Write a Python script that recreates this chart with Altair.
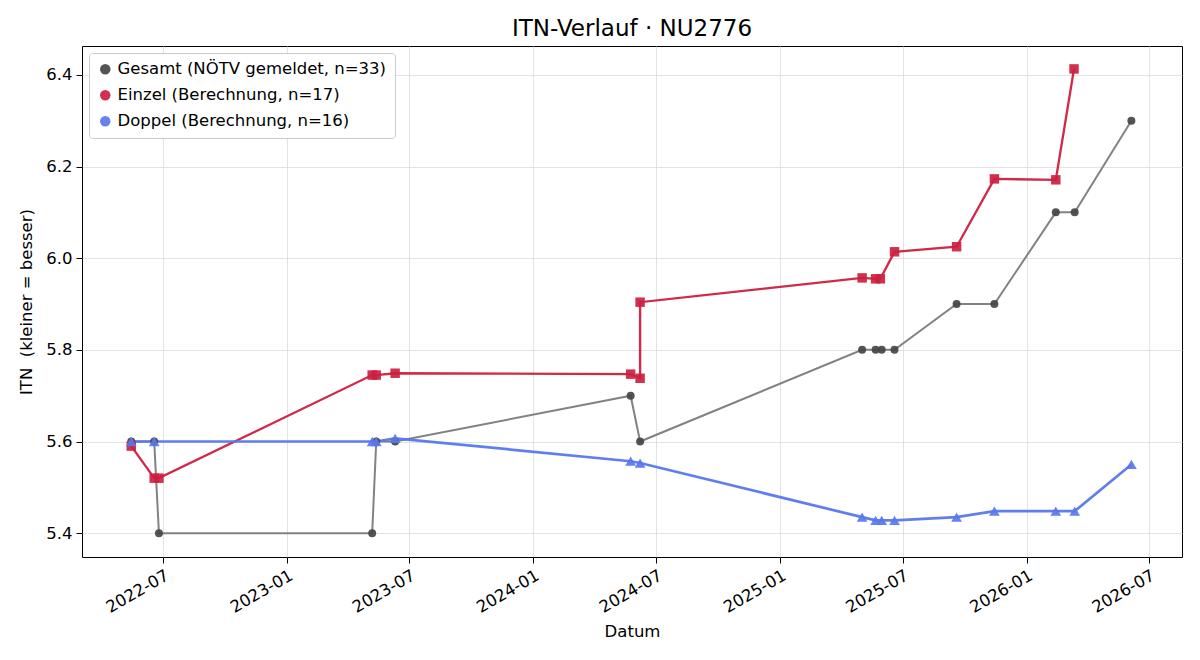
import altair as alt
import pandas as pd

# ---- data ----
gesamt_dates = ["2022-05-15", "2022-06-18", "2022-06-25", "2023-05-07", "2023-05-13",
                "2023-06-10", "2024-05-24", "2024-06-07", "2025-05-02", "2025-05-22",
                "2025-05-31", "2025-06-19", "2025-09-19", "2025-11-14", "2026-02-13",
                "2026-03-13", "2026-06-05"]
gesamt_vals = [5.6, 5.6, 5.4, 5.4, 5.6, 5.6, 5.7, 5.6, 5.8, 5.8, 5.8, 5.8, 5.9, 5.9,
               6.1, 6.1, 6.3]

einzel_dates = ["2022-05-15", "2022-06-18", "2022-06-25", "2023-05-07", "2023-05-13",
                "2023-06-10", "2024-05-24", "2024-06-07", "2024-06-07", "2025-05-02",
                "2025-05-22", "2025-05-29", "2025-06-19", "2025-09-19", "2025-11-14",
                "2026-02-13", "2026-03-12"]
einzel_vals = [5.59, 5.52, 5.52, 5.745, 5.745, 5.749, 5.747, 5.738, 5.904, 5.957,
               5.955, 5.955, 6.014, 6.025, 6.173, 6.171, 6.413]

doppel_dates = ["2022-05-15", "2022-06-18", "2023-05-07", "2023-05-13", "2023-06-10",
                "2024-05-24", "2024-06-07", "2025-05-02", "2025-05-22", "2025-05-31",
                "2025-06-19", "2025-09-19", "2025-11-14", "2026-02-13", "2026-03-13",
                "2026-06-05"]
doppel_vals = [5.6, 5.6, 5.6, 5.6, 5.607, 5.557, 5.553, 5.435, 5.428, 5.428, 5.428,
               5.435, 5.448, 5.448, 5.448, 5.55]

labels = ["Gesamt (NÖTV gemeldet, n=33)", "Einzel (Berechnung, n=17)",
          "Doppel (Berechnung, n=16)"]
line_colors = ["#7b7b7b", "#cc1f3f", "#5877ee"]
point_colors = ["#454545", "#cc1f3f", "#5877ee"]
shapes = ["circle", "square", "triangle-up"]
FONT = "DejaVu Sans"
FS = 16.5


def frame(dates, vals, label):
    return pd.DataFrame({
        "Datum": [d + "T00:00:00" for d in dates],
        "ITN": vals,
        "Serie": label,
        "idx": list(range(len(dates))),
    })


df = pd.concat([
    frame(gesamt_dates, gesamt_vals, labels[0]),
    frame(einzel_dates, einzel_vals, labels[1]),
    frame(doppel_dates, doppel_vals, labels[2]),
], ignore_index=True)

x_enc = alt.X(
    "Datum:T",
    title="Datum",
    scale=alt.Scale(domain=["2022-03-03T00:00:00", "2026-08-19T00:00:00"], nice=False),
    axis=alt.Axis(format="%Y-%m", tickCount={"interval": "month", "step": 6},
                  labelAngle=-30, labelAlign="right", labelBaseline="top",
                  titlePadding=8),
)
y_enc = alt.Y(
    "ITN:Q",
    title="ITN\u00a0 (kleiner = besser)",
    scale=alt.Scale(domain=[5.348, 6.463], nice=False, zero=False),
    axis=alt.Axis(values=[5.4, 5.6, 5.8, 6.0, 6.2, 6.4], format=".1f", titlePadding=11),
)

base = alt.Chart(df)

lines = base.mark_line(opacity=0.95).encode(
    x=x_enc, y=y_enc,
    color=alt.Color("Serie:N", scale=alt.Scale(domain=labels, range=line_colors), legend=None),
    strokeWidth=alt.StrokeWidth("Serie:N", scale=alt.Scale(domain=labels, range=[2.0, 2.7, 2.7]),
                                legend=None),
    detail="Serie:N",
    order="idx:Q",
)

points = base.mark_point(filled=True, opacity=0.92).encode(
    x=x_enc, y=y_enc,
    color=alt.Color("Serie:N", scale=alt.Scale(domain=labels, range=point_colors),
                    legend=alt.Legend(title=None, orient="top-left")),
    shape=alt.Shape("Serie:N", scale=alt.Scale(domain=labels, range=shapes),
                    legend=alt.Legend(title=None, orient="top-left")),
    size=alt.Size("Serie:N", scale=alt.Scale(domain=labels, range=[64, 115, 95]), legend=None),
)

chart = alt.layer(lines, points).resolve_scale(color="independent").properties(
    width=1100, height=511,
    title=alt.TitleParams("ITN-Verlauf · NU2776", fontSize=23, fontWeight="normal",
                          font=FONT, offset=5, color="black"),
    autosize=alt.AutoSizeParams(type="none"),
    padding={"left": 82, "top": 46, "right": 18, "bottom": 103},
).configure_view(
    stroke="black", strokeWidth=1
).configure_axis(
    labelFont=FONT, titleFont=FONT, labelFontSize=FS, titleFontSize=FS,
    titleFontWeight="normal", labelColor="black", titleColor="black",
    grid=True, gridColor="#dcdcdc", gridWidth=0.8,
    domain=False, tickColor="black", tickSize=6, labelPadding=4,
).configure_legend(
    labelFont=FONT, labelFontSize=FS, labelColor="black",
    fillColor="white", strokeColor="#cccccc", cornerRadius=3, padding=8,
    offset=7, rowPadding=9, symbolSize=110, labelLimit=500,
)

chart.save("out.html", embed_options={"renderer": "svg", "actions": False})
